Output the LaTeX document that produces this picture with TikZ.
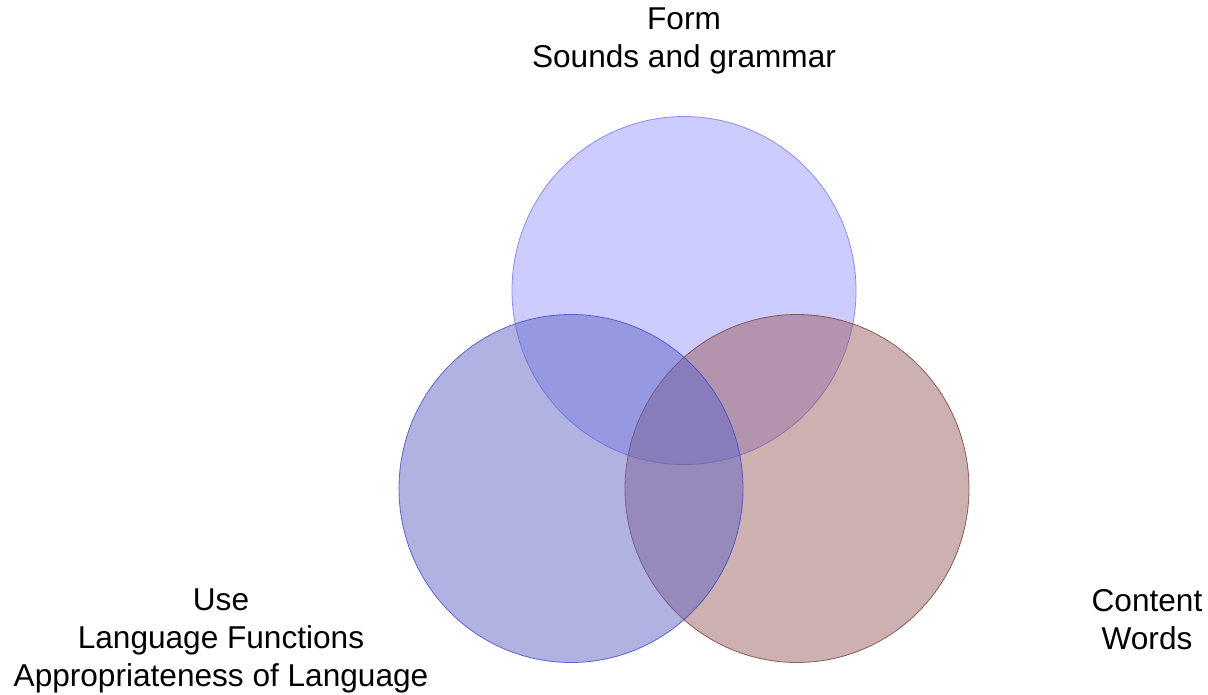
\documentclass[tikz,border=0pt]{standalone}
\usepackage{fontspec}
\usetikzlibrary{shapes.geometric}
\setmainfont{Liberation Sans}
\definecolor{topfill}{RGB}{204,204,255}
\definecolor{topedge}{RGB}{140,140,240}
\definecolor{leftfill}{RGB}{97,101,197}
\definecolor{leftedge}{RGB}{70,70,200}
\definecolor{rightfill}{RGB}{149,87,87}
\definecolor{rightedge}{RGB}{120,60,60}
\begin{document}
\begin{tikzpicture}[x=1bp,y=-1bp,
  lbl/.style={align=center,anchor=base,inner sep=0pt,
    font=\fontsize{31.6bp}{38bp}\selectfont},
  set/.style={ellipse,minimum width=344bp,minimum height=348bp,inner sep=0pt,line width=0.8bp}]
\useasboundingbox (0,0) rectangle (1208,695);
\node[set,fill=topfill,draw=topedge] (form) at (684,290.5) {};
\node[set,fill=rightfill,fill opacity=0.47,draw=rightedge,draw opacity=0.8] (content) at (797,488.5) {};
\node[set,fill=leftfill,fill opacity=0.5,draw=leftedge,draw opacity=0.8] (use) at (571,488.5) {};
\node[lbl] (formlbl) at (684,68) {Form\\Sounds and grammar};
\node[lbl] (uselbl) at (221,686) {Use\\Language Functions\\Appropriateness of Language};
\node[lbl] (contentlbl) at (1147,649) {Content\\Words};
\end{tikzpicture}
\end{document}
